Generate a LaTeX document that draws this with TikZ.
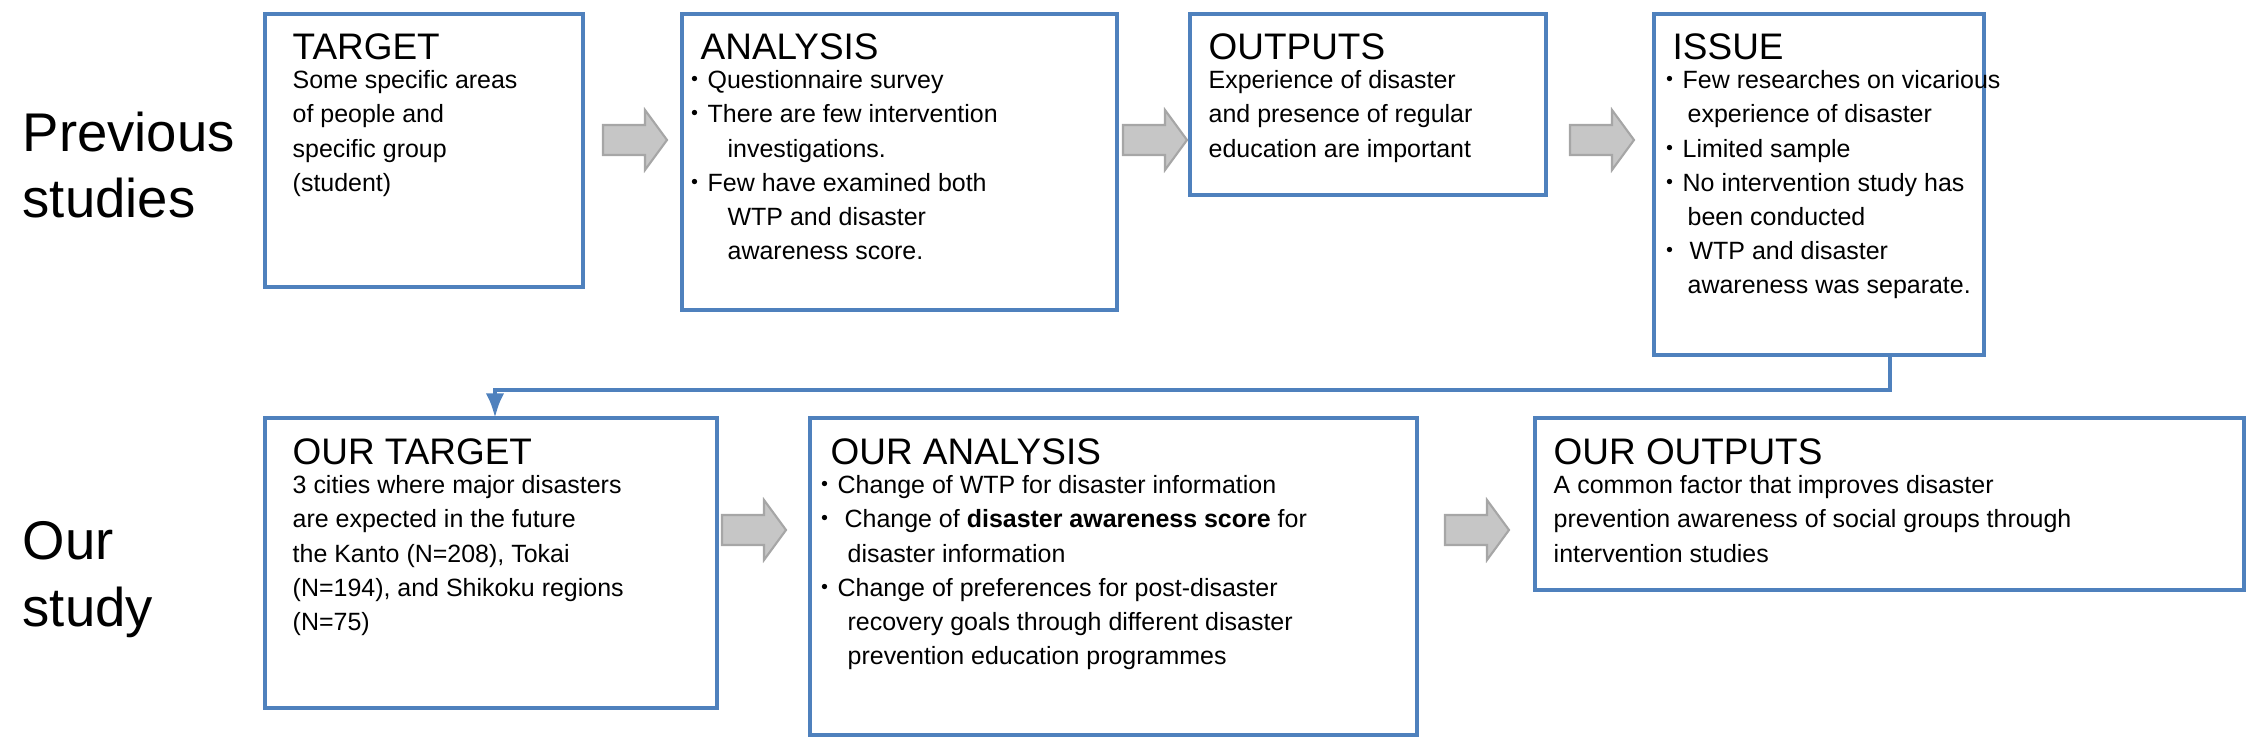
\documentclass[tikz,border=0pt]{standalone}
\usetikzlibrary{arrows.meta}
\usepackage{fontspec}
\setmainfont{Liberation Sans}
\newfontfamily\cjk{Noto Sans CJK JP}
\newcommand{\bl}{{\cjk ・}}
\begin{document}
\begin{tikzpicture}[x=0.01cm,y=-0.01cm,
  ttl/.style={anchor=north west, font=\fontsize{10.5}{12}\selectfont, inner sep=0pt},
  body/.style={anchor=north west, font=\fontsize{7.1}{9.7}\selectfont, inner sep=0pt, align=left},
  side/.style={font=\fontsize{15.5}{19}\selectfont, align=left, anchor=west, inner sep=0pt},
  garrow/.style={fill=gray!45, draw=gray!70, line width=0.6pt}]
\useasboundingbox (0,0) rectangle (2258,752);
\definecolor{bx}{RGB}{79,129,189}
\tikzset{box/.style={draw=bx, line width=1.2pt}}
% boxes
\draw[box] (265,14) rectangle (583,287);
\draw[box] (682,14) rectangle (1117,310);
\draw[box] (1190,14) rectangle (1546,195);
\draw[box] (1654,14) rectangle (1984,355);
\draw[box] (265,418) rectangle (717,708);
\draw[box] (810,418) rectangle (1417,735);
\draw[box] (1535,418) rectangle (2244,590);
% side labels
\node[side] (ps) at (22,165) {Previous\\studies};
\node[side] (os) at (22,580) {Our\\study};
% texts
\node[ttl] (t1) at (292,33) {TARGET};
\node[body] (d1) at (292,70) {Some specific areas\\of people and\\specific group\\(student)};
\node[ttl] (t2) at (700,33) {ANALYSIS};
\node[body] (d2) at (682,70) {\bl Questionnaire survey\\\bl There are few intervention\\\hspace*{1.8em}investigations.\\\bl Few have examined both\\\hspace*{1.8em}WTP and disaster\\\hspace*{1.8em}awareness score.};
\node[ttl] (t3) at (1208,33) {OUTPUTS};
\node[body] (d3) at (1208,70) {Experience of disaster\\and presence of regular\\education are important};
\node[ttl] (t4) at (1672,33) {ISSUE};
\node[body] (d4) at (1657,70) {\bl Few researches on vicarious\\\hspace*{1.2em}experience of disaster\\\bl Limited sample\\\bl No intervention study has\\\hspace*{1.2em}been conducted\\\bl\ WTP and disaster\\\hspace*{1.2em}awareness was separate.};
\node[ttl] (t5) at (292,438) {OUR TARGET};
\node[body] (d5) at (292,475) {3 cities where major disasters\\are expected in the future\\the Kanto (N=208), Tokai\\(N=194), and Shikoku regions\\(N=75)};
\node[ttl] (t6) at (830,438) {OUR ANALYSIS};
\node[body] (d6) at (812,475) {\bl Change of WTP for disaster information\\\bl\ Change of \textbf{disaster awareness score} for\\\hspace*{1.4em}disaster information\\\bl Change of preferences for post-disaster\\\hspace*{1.4em}recovery goals through different disaster\\\hspace*{1.4em}prevention education programmes};
\node[ttl] (t7) at (1553,438) {OUR OUTPUTS};
\node[body] (d7) at (1553,475) {A common factor that improves disaster\\prevention awareness of social groups through\\intervention studies};
% gray block arrows
\foreach \xa/\yc in {603/140, 1123/140, 1570/140, 722/530, 1445/530}{
  \draw[garrow] (\xa,\yc-15) -- (\xa+42,\yc-15) -- (\xa+42,\yc-30) -- (\xa+64,\yc) -- (\xa+42,\yc+30) -- (\xa+42,\yc+15) -- (\xa,\yc+15) -- cycle;}
% connector
\coordinate (c0) at (1890,355);
\coordinate (c1) at (495,418);
\draw[bx, line width=1.2pt, -{Latex[length=7pt]}] (c0) -- (1890,390) -- (495,390) -- (c1);
\end{tikzpicture}
\end{document}
